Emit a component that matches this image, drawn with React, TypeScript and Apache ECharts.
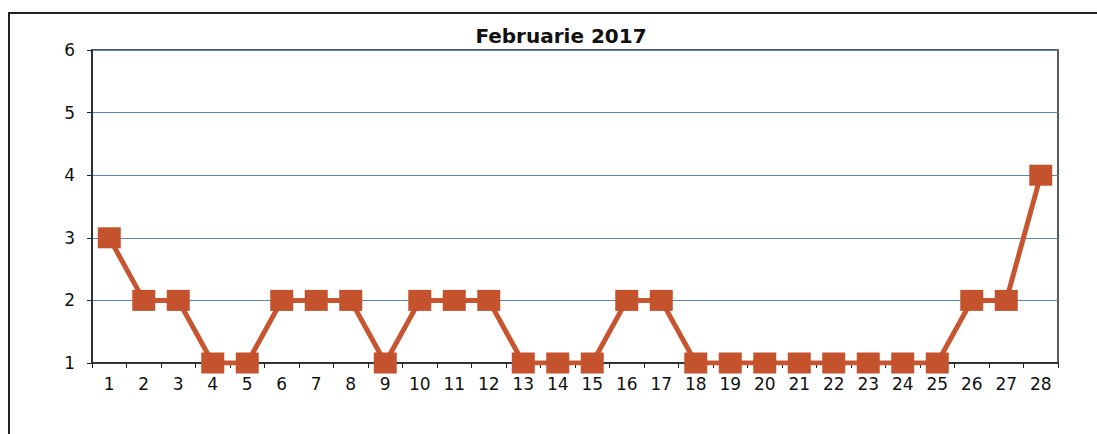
import React, { useEffect, useRef } from "react";
import * as echarts from "echarts";

const days = ["1","2","3","4","5","6","7","8","9","10","11","12","13","14","15","16","17","18","19","20","21","22","23","24","25","26","27","28"];
const values = [3,2,2,1,1,2,2,2,1,2,2,2,1,1,1,2,2,1,1,1,1,1,1,1,1,2,2,4];
const titleText = "Februarie 2017";

const FONT = "DejaVu Sans, Arial, sans-serif";

export default function App() {
  const ref = useRef<HTMLDivElement>(null);
  useEffect(() => {
    if (!ref.current) return;
    const chart = echarts.init(ref.current, null, { renderer: "svg" });
    chart.setOption({
      animation: false,
      backgroundColor: "#ffffff",
      title: {
        text: titleText,
        left: 556,
        top: 21,
        textAlign: "center",
        textStyle: { fontFamily: FONT, fontSize: 20, fontWeight: "bold", color: "#111" },
      },
      graphic: [
        { type: "line", shape: { x1: 8, y1: 13, x2: 1097, y2: 13 }, style: { stroke: "#222", lineWidth: 2 } },
        { type: "line", shape: { x1: 9, y1: 13, x2: 9, y2: 434 }, style: { stroke: "#222", lineWidth: 2 } },
      ],
      grid: {
        left: 92, right: 39, top: 50, bottom: 71,
        show: true, borderColor: "#222", borderWidth: 1.5, backgroundColor: "transparent",
      },
      xAxis: {
        type: "category",
        data: days,
        boundaryGap: true,
        axisLine: { lineStyle: { color: "#222", width: 1.5 } },
        axisTick: { show: true, length: 5, lineStyle: { color: "#222" } },
        axisLabel: { fontFamily: FONT, fontSize: 17, color: "#111", margin: 12 },
      },
      yAxis: {
        type: "value",
        min: 1, max: 6, interval: 1,
        axisLine: { show: true, lineStyle: { color: "#222", width: 1.5 } },
        axisTick: { show: true, length: 5, lineStyle: { color: "#222" } },
        axisLabel: { fontFamily: FONT, fontSize: 17, color: "#111", margin: 17 },
        splitLine: { show: true, lineStyle: { color: "#5a86b5", width: 1.2 } },
      },
      series: [
        {
          type: "line",
          data: values,
          symbol: "rect",
          symbolSize: [23, 21],
          lineStyle: { color: "#c65530", width: 5 },
          itemStyle: { color: "#c4522c" },
        },
      ],
    });
    return () => chart.dispose();
  }, []);
  return <div ref={ref} style={{ position: "fixed", left: 0, top: 0, width: 1097, height: 434 }} />;
}
